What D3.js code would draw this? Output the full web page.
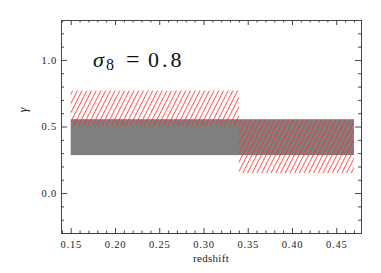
<!DOCTYPE html>
<html>
<head>
<meta charset="utf-8">
<script src="https://cdn.jsdelivr.net/npm/d3@7"></script>
<style>
  text, tspan { font-family: "Liberation Serif" !important; }
</style>
</head>
<body style="margin:0">
<svg id="chart" width="381" height="273" font-family="Liberation Serif"></svg>
<script>
'use strict';

// ── Data ────────────────────────────────────────────────────
// combined constraint (gray band) over the full redshift range
const grayZ     = [0.15, 0.47];
const grayGamma = [0.285, 0.555];

// per-bin constraints (red hatched boxes)
const binZLo     = [0.15, 0.34];
const binZHi     = [0.34, 0.47];
const binGammaLo = [0.51, 0.15];
const binGammaHi = [0.77, 0.55];

const xMajorTicks = [0.15, 0.20, 0.25, 0.30, 0.35, 0.40, 0.45];
const yMajorTicks = [0.0, 0.5, 1.0];
const xDomain = [0.139, 0.478];
const yDomain = [-0.3, 1.3];

const SERIF = 'Liberation Serif';

// ── Layout ──────────────────────────────────────────────────
const totalW = 381, totalH = 273;
const margin = { top: 20, right: 20, bottom: 40, left: 61 };
const W = totalW - margin.left - margin.right;
const H = totalH - margin.top - margin.bottom;

const svg = d3.select('#chart');

// hatch pattern for the red boxes
const defs = svg.append('defs');
defs.append('pattern')
    .attr('id', 'hatch')
    .attr('patternUnits', 'userSpaceOnUse')
    .attr('width', 4.2)
    .attr('height', 8)
    .attr('patternTransform', 'rotate(27)')
  .append('line')
    .attr('x1', 0.5).attr('y1', 0)
    .attr('x2', 0.5).attr('y2', 8)
    .attr('stroke', '#ff2a2a')
    .attr('stroke-width', 0.85)
    .attr('stroke-opacity', 0.9);

const chart = svg.append('g')
    .attr('transform', `translate(${margin.left},${margin.top})`);

// ── Scales ──────────────────────────────────────────────────
const x = d3.scaleLinear().domain(xDomain).range([0, W]);
const y = d3.scaleLinear().domain(yDomain).range([H, 0]);

// ── Boxes ───────────────────────────────────────────────────
chart.append('rect')
    .attr('x', x(grayZ[0]))
    .attr('y', y(grayGamma[1]))
    .attr('width', x(grayZ[1]) - x(grayZ[0]))
    .attr('height', y(grayGamma[0]) - y(grayGamma[1]))
    .attr('fill', '#7f7f7f');

const bins = binZLo.map((z, i) => ({
    z0: z, z1: binZHi[i], g0: binGammaLo[i], g1: binGammaHi[i]
}));

chart.selectAll('rect.bin')
    .data(bins)
    .join('rect')
    .attr('class', 'bin')
    .attr('x', d => x(d.z0))
    .attr('y', d => y(d.g1))
    .attr('width', d => x(d.z1) - x(d.z0))
    .attr('height', d => y(d.g0) - y(d.g1))
    .attr('fill', 'url(#hatch)');

// ── Axes (ticks on all four sides, IDL style) ──────────────
const xMinor = d3.range(14, 48).map(v => v / 100).filter(v => !xMajorTicks.some(t => Math.abs(t - v) < 1e-6));
const yMinor = d3.range(-3, 14).map(v => v / 10).filter(v => !yMajorTicks.some(t => Math.abs(t - v) < 1e-6));

function styleAxis(g) {
    g.attr('font-family', SERIF);
    g.select('.domain').attr('stroke', '#444').attr('stroke-width', 1);
    g.selectAll('.tick line').attr('stroke', '#444');
    g.selectAll('.tick text')
        .attr('font-family', SERIF)
        .attr('font-size', 10.5)
        .attr('letter-spacing', '0.8px')
        .attr('fill', '#222');
}

// bottom
chart.append('g')
    .attr('transform', `translate(0,${H})`)
    .call(d3.axisTop(x).tickValues(xMajorTicks).tickSize(5).tickFormat(''))
    .call(styleAxis);
chart.append('g')
    .attr('transform', `translate(0,${H})`)
    .call(d3.axisTop(x).tickValues(xMinor).tickSize(2.5).tickFormat(''))
    .call(g => g.select('.domain').remove())
    .call(styleAxis);
chart.append('g')
    .attr('transform', `translate(0,${H})`)
    .call(d3.axisBottom(x).tickValues(xMajorTicks).tickSize(0).tickPadding(8).tickFormat(d3.format('.2f')))
    .call(g => g.select('.domain').remove())
    .call(styleAxis);

// top
chart.append('g')
    .call(d3.axisBottom(x).tickValues(xMajorTicks).tickSize(5).tickFormat(''))
    .call(styleAxis);
chart.append('g')
    .call(d3.axisBottom(x).tickValues(xMinor).tickSize(2.5).tickFormat(''))
    .call(g => g.select('.domain').remove())
    .call(styleAxis);

// left
chart.append('g')
    .call(d3.axisRight(y).tickValues(yMajorTicks).tickSize(6).tickFormat(''))
    .call(styleAxis);
chart.append('g')
    .call(d3.axisRight(y).tickValues(yMinor).tickSize(3).tickFormat(''))
    .call(g => g.select('.domain').remove())
    .call(styleAxis);
chart.append('g')
    .call(d3.axisLeft(y).tickValues(yMajorTicks).tickSize(0).tickPadding(4).tickFormat(d3.format('.1f')))
    .call(g => g.select('.domain').remove())
    .call(styleAxis);

// right
chart.append('g')
    .attr('transform', `translate(${W},0)`)
    .call(d3.axisLeft(y).tickValues(yMajorTicks).tickSize(6).tickFormat(''))
    .call(styleAxis);
chart.append('g')
    .attr('transform', `translate(${W},0)`)
    .call(d3.axisLeft(y).tickValues(yMinor).tickSize(3).tickFormat(''))
    .call(g => g.select('.domain').remove())
    .call(styleAxis);

// ── Labels ──────────────────────────────────────────────────
svg.append('text')
    .attr('x', 211)
    .attr('y', 262)
    .attr('text-anchor', 'middle')
    .attr('font-family', SERIF)
    .attr('font-size', 11)
    .attr('letter-spacing', '0.3px')
    .attr('fill', '#222')
    .text('redshift');

svg.append('text')
    .attr('transform', 'translate(27,110) rotate(-90)')
    .attr('text-anchor', 'middle')
    .attr('font-family', SERIF)
    .attr('font-size', 12)
    .attr('font-style', 'italic')
    .attr('fill', '#222')
    .text('γ');

// annotation, laid out piece by piece to match the TeX spacing
const ann = svg.append('text')
    .attr('y', 67)
    .attr('font-family', SERIF)
    .attr('font-size', 22)
    .attr('fill', '#111');
ann.append('tspan').attr('x', 93).attr('font-style', 'italic').text('σ');
ann.append('tspan').attr('x', 106).attr('dy', 3).attr('font-size', 16).text('8');
ann.append('tspan').attr('x', 126).attr('dy', -3).attr('font-size', 24).text('=');
ann.append('tspan').attr('x', 148).attr('letter-spacing', '3px').text('0.8');
</script>
</body>
</html>
